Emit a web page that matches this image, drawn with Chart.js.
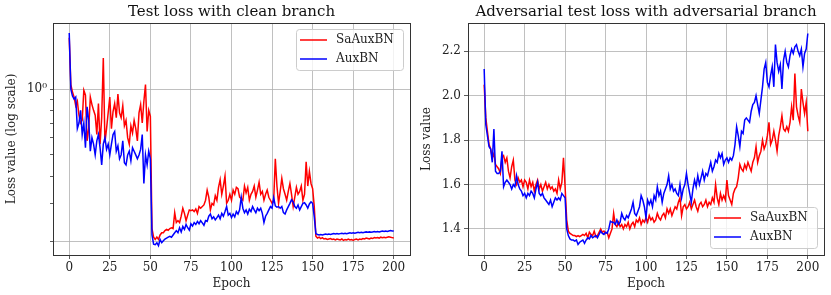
<!DOCTYPE html>
<html>
<head>
<meta charset="utf-8">
<script src="https://cdn.jsdelivr.net/npm/chart.js@4"></script>
<style>
  html, body { margin: 0; padding: 0; background: #fff; }
  .panel { position: absolute; top: 0; height: 295px; }
  #left { left: 0; width: 415px; }
  #right { left: 415px; width: 416px; }
</style>
</head>
<body>
<div class="panel" id="left"><canvas id="cleanChart" width="415" height="295"></canvas></div>
<div class="panel" id="right"><canvas id="advChart" width="416" height="295"></canvas></div>
<script>
// Epoch index 0..200
const epochs = Array.from({ length: 201 }, (_, i) => i);
const xTicks = [0, 25, 50, 75, 100, 125, 150, 175, 200];

// Test loss with clean branch (log scale)
const cleanSaAuxBN = [
  1.72, 1.05, 0.97, 0.92, 0.84, 0.88, 0.76, 0.70, 0.72, 0.99,
  0.94, 0.58, 0.66, 0.92, 0.85, 0.80, 0.76, 0.62, 0.86, 0.56,
  0.74, 1.39, 0.57, 0.66, 0.78, 0.92, 0.66, 0.79, 0.86, 0.74,
  0.95, 0.78, 0.74, 0.84, 0.68, 0.72, 0.60, 0.56, 0.68, 0.63,
  0.72, 0.66, 0.58, 0.78, 0.85, 0.70, 0.88, 1.05, 0.64, 0.80,
  0.75, 0.23, 0.21, 0.205, 0.21, 0.205, 0.215, 0.22, 0.22, 0.225,
  0.228, 0.226, 0.23, 0.232, 0.23, 0.272, 0.245, 0.25, 0.245, 0.262,
  0.285, 0.27, 0.25, 0.265, 0.28, 0.278, 0.28, 0.275, 0.283, 0.27,
  0.29, 0.285, 0.29, 0.295, 0.31, 0.345, 0.32, 0.28, 0.30, 0.295,
  0.325, 0.31, 0.355, 0.385, 0.33, 0.36, 0.40, 0.30, 0.31, 0.33,
  0.31, 0.345, 0.33, 0.355, 0.35, 0.32, 0.315, 0.31, 0.36, 0.335,
  0.355, 0.31, 0.33, 0.34, 0.36, 0.32, 0.345, 0.375, 0.33, 0.34,
  0.31, 0.33, 0.345, 0.32, 0.31, 0.30, 0.31, 0.48, 0.36, 0.30,
  0.34, 0.39, 0.35, 0.33, 0.31, 0.34, 0.37, 0.33, 0.29, 0.32,
  0.355, 0.33, 0.34, 0.36, 0.31, 0.33, 0.465, 0.36, 0.42, 0.37,
  0.35, 0.29, 0.212, 0.208, 0.21, 0.207, 0.209, 0.206, 0.207, 0.205,
  0.206, 0.207, 0.205, 0.206, 0.204, 0.206, 0.205, 0.204, 0.206, 0.203,
  0.205, 0.204, 0.206, 0.204, 0.205, 0.203, 0.205, 0.206, 0.204, 0.206,
  0.205, 0.207, 0.206, 0.208, 0.207, 0.206, 0.208, 0.207, 0.209, 0.208,
  0.209, 0.208, 0.21, 0.209, 0.21, 0.209, 0.21, 0.211, 0.21, 0.209,
  0.208
];
const cleanAuxBN = [
  1.81, 1.00, 0.93, 0.90, 0.92, 0.66, 0.70, 0.80, 0.62, 0.70,
  0.54, 0.83, 0.72, 0.52, 0.60, 0.56, 0.50, 0.58, 0.62, 0.54,
  0.45, 0.56, 0.60, 0.53, 0.56, 0.50, 0.56, 0.62, 0.64, 0.52,
  0.55, 0.48, 0.50, 0.58, 0.46, 0.45, 0.50, 0.52, 0.47, 0.54,
  0.52, 0.50, 0.48, 0.50, 0.53, 0.62, 0.37, 0.50, 0.45, 0.52,
  0.48, 0.215, 0.195, 0.194, 0.198, 0.192, 0.205, 0.198, 0.202, 0.206,
  0.208, 0.21, 0.212, 0.21, 0.215, 0.22, 0.225, 0.22, 0.232, 0.222,
  0.235, 0.228, 0.24, 0.232, 0.226, 0.242, 0.236, 0.245, 0.24, 0.248,
  0.242, 0.25, 0.244, 0.238, 0.25, 0.248, 0.262, 0.268, 0.255, 0.26,
  0.252, 0.258, 0.265, 0.255, 0.27, 0.262, 0.275, 0.29, 0.265, 0.27,
  0.258, 0.268, 0.26, 0.275, 0.268, 0.28, 0.32, 0.285, 0.272, 0.28,
  0.268, 0.282, 0.275, 0.29, 0.28, 0.272, 0.285, 0.278, 0.285, 0.27,
  0.245, 0.262, 0.27, 0.28, 0.29, 0.285, 0.318, 0.292, 0.288, 0.29,
  0.285, 0.29, 0.272, 0.268, 0.28, 0.29, 0.30, 0.312, 0.305, 0.29,
  0.285, 0.295, 0.28, 0.29, 0.30, 0.302, 0.295, 0.285, 0.298, 0.305,
  0.30, 0.26, 0.218, 0.216, 0.215, 0.216, 0.215, 0.216, 0.217, 0.216,
  0.217, 0.216, 0.217, 0.218, 0.217, 0.218, 0.217, 0.218, 0.219, 0.218,
  0.219, 0.218, 0.219, 0.22, 0.219, 0.22, 0.219, 0.22, 0.221, 0.22,
  0.221, 0.22, 0.221, 0.222, 0.221, 0.222, 0.221, 0.222, 0.223, 0.222,
  0.223, 0.222, 0.223, 0.224, 0.223, 0.224, 0.223, 0.224, 0.225, 0.224,
  0.224
];
const cleanYTicks = [0.2, 0.3, 0.4, 0.5, 0.6, 0.7, 0.8, 0.9, 1.0];

// Adversarial test loss with adversarial branch
const advSaAuxBN = [
  2.05, 1.90, 1.84, 1.78, 1.76, 1.72, 1.74, 1.69, 1.68, 1.67,
  1.65, 1.72, 1.73, 1.70, 1.72, 1.66, 1.63, 1.68, 1.71, 1.62,
  1.60, 1.63, 1.61, 1.62, 1.59, 1.62, 1.61, 1.58, 1.62, 1.59,
  1.61, 1.57, 1.60, 1.62, 1.58, 1.60, 1.57, 1.59, 1.61, 1.58,
  1.60, 1.58, 1.59, 1.57, 1.58, 1.56, 1.62, 1.58, 1.61, 1.72,
  1.59, 1.44, 1.39, 1.38, 1.375, 1.37, 1.37, 1.365, 1.37, 1.365,
  1.37, 1.375, 1.37, 1.38, 1.36, 1.385, 1.375, 1.37, 1.39, 1.365,
  1.37, 1.385, 1.40, 1.385, 1.39, 1.38, 1.385, 1.36, 1.38, 1.40,
  1.47, 1.42, 1.41, 1.43, 1.41, 1.42, 1.40, 1.42, 1.41, 1.43,
  1.40, 1.42, 1.43, 1.41, 1.44, 1.43, 1.45, 1.42, 1.44, 1.43,
  1.45, 1.43, 1.46, 1.44, 1.45, 1.43, 1.44, 1.47, 1.45, 1.44,
  1.46, 1.47, 1.45, 1.49, 1.47, 1.49, 1.46, 1.48, 1.50, 1.49,
  1.52, 1.54, 1.46, 1.50, 1.51, 1.49, 1.50, 1.52, 1.49, 1.51,
  1.53, 1.50, 1.48, 1.51, 1.52, 1.50, 1.51, 1.53, 1.50, 1.52,
  1.51, 1.54, 1.52, 1.60, 1.54, 1.51, 1.56, 1.53, 1.55, 1.53,
  1.62, 1.55, 1.53, 1.51, 1.56, 1.58, 1.59, 1.63, 1.69, 1.67,
  1.66, 1.69, 1.67, 1.70, 1.68, 1.66, 1.70, 1.72, 1.77, 1.70,
  1.73, 1.75, 1.80, 1.76, 1.78, 1.82, 1.88, 1.78, 1.80, 1.84,
  1.80, 1.75, 1.82, 1.86, 1.91, 1.85, 1.84, 1.86, 1.84, 1.88,
  1.95, 1.89, 2.10, 1.95, 1.91, 1.88, 2.03, 1.97, 1.92, 1.97,
  1.84
];
const advAuxBN = [
  2.12, 1.87, 1.82, 1.77, 1.76, 1.70, 1.85, 1.66, 1.65, 1.65,
  1.66, 1.75, 1.59, 1.61, 1.62, 1.61, 1.60, 1.58, 1.60, 1.59,
  1.64, 1.60, 1.58, 1.57, 1.55, 1.56, 1.54, 1.56, 1.55, 1.57,
  1.56, 1.54, 1.58, 1.61, 1.56, 1.55, 1.56, 1.54, 1.53, 1.52,
  1.51, 1.53, 1.50, 1.52, 1.54, 1.53, 1.54, 1.53, 1.56, 1.55,
  1.54, 1.40, 1.37, 1.355, 1.35, 1.35, 1.345, 1.35, 1.33, 1.34,
  1.345, 1.35, 1.335, 1.35, 1.36, 1.355, 1.37, 1.36, 1.365, 1.37,
  1.36, 1.375, 1.39, 1.38, 1.375, 1.385, 1.38, 1.40, 1.435, 1.43,
  1.43, 1.42, 1.44, 1.42, 1.43, 1.47, 1.45, 1.44, 1.46, 1.45,
  1.47, 1.49, 1.52, 1.47, 1.46, 1.48, 1.50, 1.55, 1.53, 1.50,
  1.45, 1.53, 1.51, 1.53, 1.50, 1.55, 1.53, 1.59, 1.55, 1.57,
  1.52, 1.56, 1.58, 1.60, 1.64, 1.58, 1.60, 1.57, 1.58, 1.56,
  1.55, 1.60, 1.54, 1.58, 1.60, 1.65, 1.60, 1.56, 1.52, 1.58,
  1.62, 1.59, 1.64, 1.60, 1.63, 1.66, 1.62, 1.65, 1.64, 1.67,
  1.70, 1.66, 1.68, 1.71, 1.70, 1.74, 1.72, 1.74, 1.69, 1.71,
  1.72, 1.70, 1.72, 1.71, 1.73, 1.78, 1.86, 1.82, 1.77, 1.84,
  1.83, 1.89, 1.90, 1.89, 1.88, 1.93, 1.96, 1.97, 2.00, 1.96,
  1.92, 1.98, 2.04, 2.12, 2.15, 2.06, 2.04, 2.09, 2.13, 2.04,
  2.23, 2.15, 2.11, 2.14, 2.03, 2.16, 2.20, 2.15, 2.13, 2.18,
  2.21, 2.19, 2.22, 2.23, 2.20, 2.18, 2.21, 2.13, 2.19, 2.21,
  2.28
];
const advYTicks = [1.4, 1.6, 1.8, 2.0, 2.2];

const FONT = 'DejaVu Serif';
const TEXT = '#222';
const GRID = '#b0b0b0';
Chart.defaults.font.family = FONT;
Chart.defaults.color = TEXT;

// frame, title and legend drawn the matplotlib way
const axesDecor = {
  id: 'axesDecor',
  afterDraw(chart, args, opts) {
    const { ctx, chartArea: a } = chart;
    ctx.save();
    ctx.strokeStyle = '#333';
    ctx.lineWidth = 1;
    ctx.strokeRect(Math.round(a.left) + 0.5, Math.round(a.top) + 0.5,
      Math.round(a.right - a.left), Math.round(a.bottom - a.top));

    ctx.fillStyle = '#111';
    ctx.font = `15px "${FONT}"`;
    ctx.textAlign = 'center';
    ctx.textBaseline = 'middle';
    ctx.fillText(opts.title, (a.left + a.right) / 2, 12);

    // legend box
    const w = 107, h = 41;
    const x = a.right - 7 - w;
    const y = opts.legendAt === 'top' ? a.top + 6 : a.bottom - 7 - h;
    ctx.beginPath();
    ctx.roundRect(x + 0.5, y + 0.5, w, h, 3);
    ctx.fillStyle = 'rgba(255,255,255,0.8)';
    ctx.fill();
    ctx.strokeStyle = '#cccccc';
    ctx.stroke();
    ctx.font = `12px "${FONT}"`;
    ctx.textAlign = 'left';
    chart.data.datasets.forEach((ds, i) => {
      const ly = y + 11 + i * 19;
      ctx.strokeStyle = ds.borderColor;
      ctx.lineWidth = 1.5;
      ctx.beginPath();
      ctx.moveTo(x + 4, ly);
      ctx.lineTo(x + 31, ly);
      ctx.stroke();
      ctx.fillStyle = TEXT;
      ctx.fillText(ds.label, x + 40, ly);
    });
    ctx.restore();
  }
};

function makeChart(id, red, blue, yScale, title, legendAt, padRight) {
  const ctx = document.getElementById(id).getContext('2d');
  return new Chart(ctx, {
    type: 'line',
    data: {
      datasets: [{
        label: 'SaAuxBN',
        data: epochs.map((e, i) => ({ x: e, y: red[i] })),
        borderColor: '#ff0000',
        order: 1
      }, {
        label: 'AuxBN',
        data: epochs.map((e, i) => ({ x: e, y: blue[i] })),
        borderColor: '#0000ff',
        order: 0
      }]
    },
    options: {
      responsive: false,
      animation: false,
      devicePixelRatio: 1,
      layout: { padding: { top: 23, right: padRight, left: 0, bottom: 0 } },
      elements: {
        point: { radius: 0 },
        line: { borderWidth: 1.5, tension: 0 }
      },
      plugins: {
        legend: { display: false },
        tooltip: { enabled: false },
        axesDecor: { title: title, legendAt: legendAt }
      },
      scales: {
        x: {
          type: 'linear',
          min: -10,
          max: 210,
          afterBuildTicks: s => { s.ticks = xTicks.map(v => ({ value: v })); },
          afterFit: s => { s.height = 40; },
          border: { display: false },
          grid: { color: GRID, lineWidth: 0.8, tickColor: '#333', tickLength: 4 },
          ticks: { font: { size: 12 }, color: TEXT, padding: 2, maxRotation: 0, autoSkip: false },
          title: { display: true, text: 'Epoch', font: { size: 12 }, color: TEXT, padding: { top: 0, bottom: 4 } }
        },
        y: yScale
      }
    },
    plugins: [axesDecor]
  });
}

makeChart('cleanChart', cleanSaAuxBN, cleanAuxBN, {
  type: 'logarithmic',
  min: 0.174,
  max: 2.01,
  afterBuildTicks: s => { s.ticks = cleanYTicks.map(v => ({ value: v })); },
  afterFit: s => { s.width = 53; },
  border: { display: false },
  grid: {
    color: c => (c.tick && (c.tick.value === 1 || c.tick.value === 0.2)) ? GRID : 'rgba(0,0,0,0)',
    lineWidth: 0.8,
    tickColor: '#333',
    tickLength: 3
  },
  ticks: { callback: v => (v === 1 ? '10⁰' : ''), font: { size: 12 }, color: TEXT, padding: 3, autoSkip: false },
  title: { display: true, text: 'Loss value (log scale)', font: { size: 12 }, color: TEXT, padding: { top: 5, bottom: 0 } }
}, 'Test loss with clean branch', 'top', 5);

makeChart('advChart', advSaAuxBN, advAuxBN, {
  type: 'linear',
  min: 1.2825,
  max: 2.3275,
  afterBuildTicks: s => { s.ticks = advYTicks.map(v => ({ value: v })); },
  afterFit: s => { s.width = 53; },
  border: { display: false },
  grid: { color: GRID, lineWidth: 0.8, tickColor: '#333', tickLength: 4 },
  ticks: { callback: v => v.toFixed(1), font: { size: 12 }, color: TEXT, padding: 3, autoSkip: false },
  title: { display: true, text: 'Loss value', font: { size: 12 }, color: TEXT, padding: { top: 5, bottom: 0 } }
}, 'Adversarial test loss with adversarial branch', 'bottom', 7);
</script>
</body>
</html>
